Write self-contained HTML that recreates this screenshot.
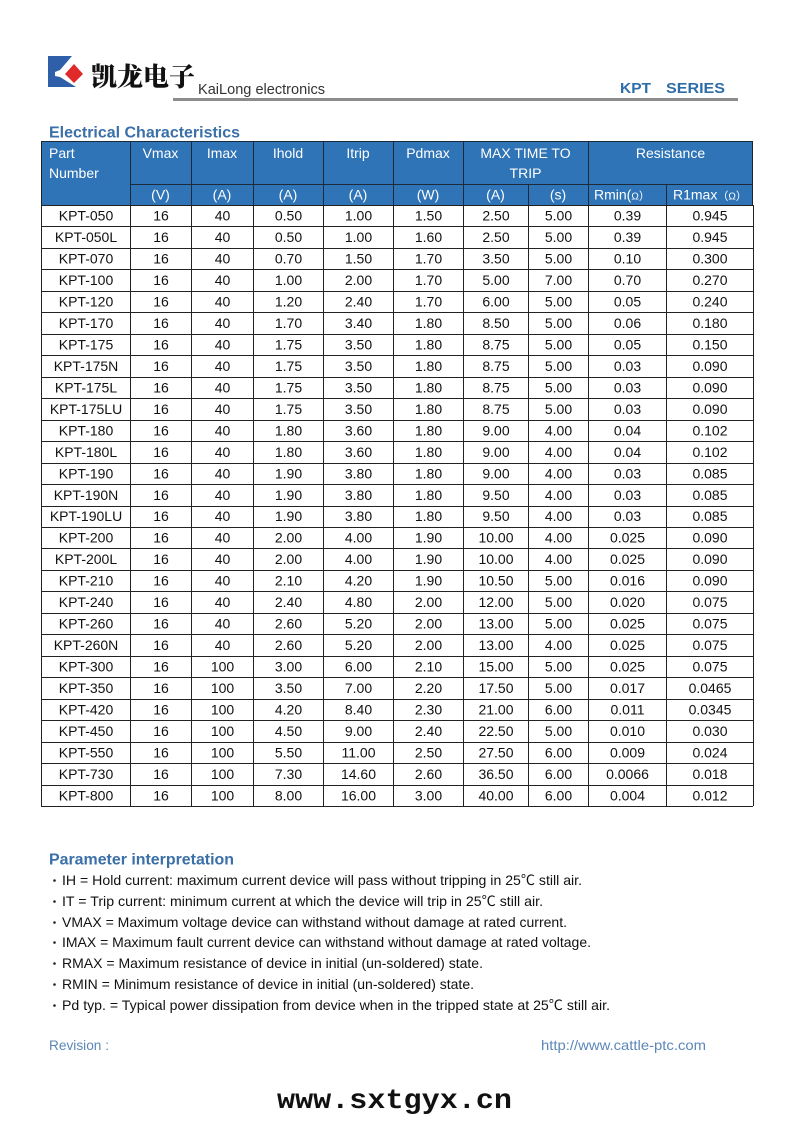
<!DOCTYPE html>
<html><head><meta charset="utf-8">
<style>
html,body{margin:0;padding:0;background:#fff;}
svg{display:block;}
text{font-family:"Liberation Sans","Noto Sans CJK SC",sans-serif;}
</style></head>
<body>
<svg width="793" height="1122" viewBox="0 0 793 1122" xmlns="http://www.w3.org/2000/svg">
<rect width="793" height="1122" fill="#fff"/>
<!-- logo -->
<rect x="48" y="56" width="7" height="31" fill="#2f5fa8"/>
<polygon points="55,56 72,56 60,70 55,72" fill="#2f5fa8"/>
<polygon points="55,76 60,77 76,87 55,87" fill="#2f5fa8"/>
<polygon points="74,64 83,74 74,83 65,74" fill="#e02a2a"/>
<text x="91" y="86" font-size="26" font-weight="900" fill="#111" style="font-family:'Noto Serif CJK SC','Noto Sans CJK SC',serif" textLength="104" lengthAdjust="spacingAndGlyphs">凯龙电子</text>
<text x="198" y="94" font-size="15" fill="#333" textLength="127" lengthAdjust="spacingAndGlyphs">KaiLong electronics</text>
<rect x="173" y="98" width="565" height="3" fill="#8c8c8c"/>
<text x="620" y="93" font-size="15" font-weight="bold" fill="#2e6ea8" textLength="31" lengthAdjust="spacingAndGlyphs">KPT</text>
<text x="666" y="93" font-size="15" font-weight="bold" fill="#2e6ea8" textLength="59" lengthAdjust="spacingAndGlyphs">SERIES</text>

<text x="49" y="137.5" font-size="16" font-weight="bold" fill="#3a6fa8" textLength="191" lengthAdjust="spacingAndGlyphs">Electrical Characteristics</text>

<!-- header -->
<rect x="41" y="141" width="712" height="64" fill="#2f74b6"/>
<g stroke="#1c2a3a" stroke-width="1" shape-rendering="crispEdges">
<line x1="130.5" y1="141" x2="130.5" y2="205"/>
<line x1="191.5" y1="141" x2="191.5" y2="205"/>
<line x1="253.5" y1="141" x2="253.5" y2="205"/>
<line x1="323.5" y1="141" x2="323.5" y2="205"/>
<line x1="393.5" y1="141" x2="393.5" y2="205"/>
<line x1="463.5" y1="141" x2="463.5" y2="205"/>
<line x1="588.5" y1="141" x2="588.5" y2="205"/>
<line x1="528.5" y1="184" x2="528.5" y2="205"/>
<line x1="666.5" y1="184" x2="666.5" y2="205"/>
<line x1="130" y1="184.5" x2="753" y2="184.5"/>
<line x1="41" y1="141.5" x2="753" y2="141.5"/>
</g>
<g font-size="14" fill="#fff">
<text x="49" y="158">Part</text>
<text x="49" y="178">Number</text>
<g text-anchor="middle">
<text x="160.5" y="158">Vmax</text>
<text x="222" y="158">Imax</text>
<text x="288" y="158">Ihold</text>
<text x="358" y="158">Itrip</text>
<text x="428" y="158">Pdmax</text>
<text x="525.5" y="158">MAX TIME TO</text>
<text x="525.5" y="178">TRIP</text>
<text x="670.5" y="158">Resistance</text>
<text x="160.5" y="199.5">(V)</text>
<text x="222" y="199.5">(A)</text>
<text x="288" y="199.5">(A)</text>
<text x="358" y="199.5">(A)</text>
<text x="428" y="199.5">(W)</text>
<text x="495.5" y="199.5">(A)</text>
<text x="558" y="199.5">(s)</text>
</g>
<text x="594" y="199.5">Rmin(<tspan font-size="10">Ω</tspan><tspan font-size="11">）</tspan></text>
<text x="673" y="199.5">R1max<tspan font-size="11">（</tspan><tspan font-size="10">Ω</tspan><tspan font-size="11">）</tspan></text>
</g>

<!-- body grid -->
<g id="grid" stroke="#222" stroke-width="1" shape-rendering="crispEdges"></g>
<g id="cells" font-size="14" fill="#111" text-anchor="middle"></g>

<!-- parameter interpretation -->
<text x="49" y="864.5" font-size="16" font-weight="bold" fill="#3a6fa8" textLength="185" lengthAdjust="spacingAndGlyphs">Parameter interpretation</text>
<g fill="#222">
<circle cx="54.5" cy="880.5" r="1.3"/>
<circle cx="54.5" cy="901.5" r="1.3"/>
<circle cx="54.5" cy="922.5" r="1.3"/>
<circle cx="54.5" cy="942.5" r="1.3"/>
<circle cx="54.5" cy="963.5" r="1.3"/>
<circle cx="54.5" cy="984.5" r="1.3"/>
<circle cx="54.5" cy="1005.5" r="1.3"/>
</g>
<g font-size="14" fill="#111">
<text x="62" y="885" textLength="520" lengthAdjust="spacingAndGlyphs">IH = Hold current: maximum current device will pass without tripping in 25℃  still air.</text>
<text x="62" y="906" textLength="481" lengthAdjust="spacingAndGlyphs">IT = Trip current: minimum current at which the device will trip in 25℃  still air.</text>
<text x="62" y="927" textLength="505" lengthAdjust="spacingAndGlyphs">VMAX = Maximum voltage device can withstand without damage at rated current.</text>
<text x="62" y="947" textLength="529" lengthAdjust="spacingAndGlyphs">IMAX = Maximum fault current device can withstand without damage at rated voltage.</text>
<text x="62" y="968" textLength="421" lengthAdjust="spacingAndGlyphs">RMAX = Maximum resistance of device in initial (un-soldered) state.</text>
<text x="62" y="989" textLength="412" lengthAdjust="spacingAndGlyphs">RMIN = Minimum resistance of device in initial (un-soldered) state.</text>
<text x="62" y="1010" textLength="548" lengthAdjust="spacingAndGlyphs">Pd typ. = Typical power dissipation from device when in the tripped state at 25℃  still air.</text>
</g>

<text x="49" y="1050" font-size="14" fill="#5b87b8" textLength="60" lengthAdjust="spacingAndGlyphs">Revision :</text>
<text x="541" y="1050" font-size="14" fill="#5b87b8" textLength="165" lengthAdjust="spacingAndGlyphs">http://www.cattle-ptc.com</text>

<text x="277" y="1108" font-size="28" font-weight="bold" fill="#111" style="font-family:'Liberation Mono',monospace" textLength="235" lengthAdjust="spacingAndGlyphs">www.sxtgyx.cn</text>
</svg>
<script>
(function(){
var rows=[
"KPT-050 16 40 0.50 1.00 1.50 2.50 5.00 0.39 0.945",
"KPT-050L 16 40 0.50 1.00 1.60 2.50 5.00 0.39 0.945",
"KPT-070 16 40 0.70 1.50 1.70 3.50 5.00 0.10 0.300",
"KPT-100 16 40 1.00 2.00 1.70 5.00 7.00 0.70 0.270",
"KPT-120 16 40 1.20 2.40 1.70 6.00 5.00 0.05 0.240",
"KPT-170 16 40 1.70 3.40 1.80 8.50 5.00 0.06 0.180",
"KPT-175 16 40 1.75 3.50 1.80 8.75 5.00 0.05 0.150",
"KPT-175N 16 40 1.75 3.50 1.80 8.75 5.00 0.03 0.090",
"KPT-175L 16 40 1.75 3.50 1.80 8.75 5.00 0.03 0.090",
"KPT-175LU 16 40 1.75 3.50 1.80 8.75 5.00 0.03 0.090",
"KPT-180 16 40 1.80 3.60 1.80 9.00 4.00 0.04 0.102",
"KPT-180L 16 40 1.80 3.60 1.80 9.00 4.00 0.04 0.102",
"KPT-190 16 40 1.90 3.80 1.80 9.00 4.00 0.03 0.085",
"KPT-190N 16 40 1.90 3.80 1.80 9.50 4.00 0.03 0.085",
"KPT-190LU 16 40 1.90 3.80 1.80 9.50 4.00 0.03 0.085",
"KPT-200 16 40 2.00 4.00 1.90 10.00 4.00 0.025 0.090",
"KPT-200L 16 40 2.00 4.00 1.90 10.00 4.00 0.025 0.090",
"KPT-210 16 40 2.10 4.20 1.90 10.50 5.00 0.016 0.090",
"KPT-240 16 40 2.40 4.80 2.00 12.00 5.00 0.020 0.075",
"KPT-260 16 40 2.60 5.20 2.00 13.00 5.00 0.025 0.075",
"KPT-260N 16 40 2.60 5.20 2.00 13.00 4.00 0.025 0.075",
"KPT-300 16 100 3.00 6.00 2.10 15.00 5.00 0.025 0.075",
"KPT-350 16 100 3.50 7.00 2.20 17.50 5.00 0.017 0.0465",
"KPT-420 16 100 4.20 8.40 2.30 21.00 6.00 0.011 0.0345",
"KPT-450 16 100 4.50 9.00 2.40 22.50 5.00 0.010 0.030",
"KPT-550 16 100 5.50 11.00 2.50 27.50 6.00 0.009 0.024",
"KPT-730 16 100 7.30 14.60 2.60 36.50 6.00 0.0066 0.018",
"KPT-800 16 100 8.00 16.00 3.00 40.00 6.00 0.004 0.012"];
var xs=[41,130,191,253,323,393,463,528,588,666,753];
var NS="http://www.w3.org/2000/svg";
var grid=document.getElementById("grid"),cells=document.getElementById("cells");
var top=205,h=(806-205)/28;
function line(x1,y1,x2,y2){var l=document.createElementNS(NS,"line");l.setAttribute("x1",x1);l.setAttribute("y1",y1);l.setAttribute("x2",x2);l.setAttribute("y2",y2);grid.appendChild(l);}
for(var i=0;i<=28;i++){var y=Math.round(top+i*h)+0.5;line(41,y,753,y);}
for(var j=0;j<xs.length;j++){var x=xs[j]+0.5;line(x,205,x,806);}
line(41.5,141,41.5,205);line(752.5,141,752.5,205);
for(var i=0;i<rows.length;i++){
 var v=rows[i].split(" ");var cy=top+i*h+h/2+5;
 for(var j=0;j<v.length;j++){
  var t=document.createElementNS(NS,"text");
  t.setAttribute("x",(xs[j]+xs[j+1])/2+0.5);t.setAttribute("y",cy.toFixed(1));
  t.textContent=v[j];cells.appendChild(t);
 }
}
})();
</script>
</body></html>
